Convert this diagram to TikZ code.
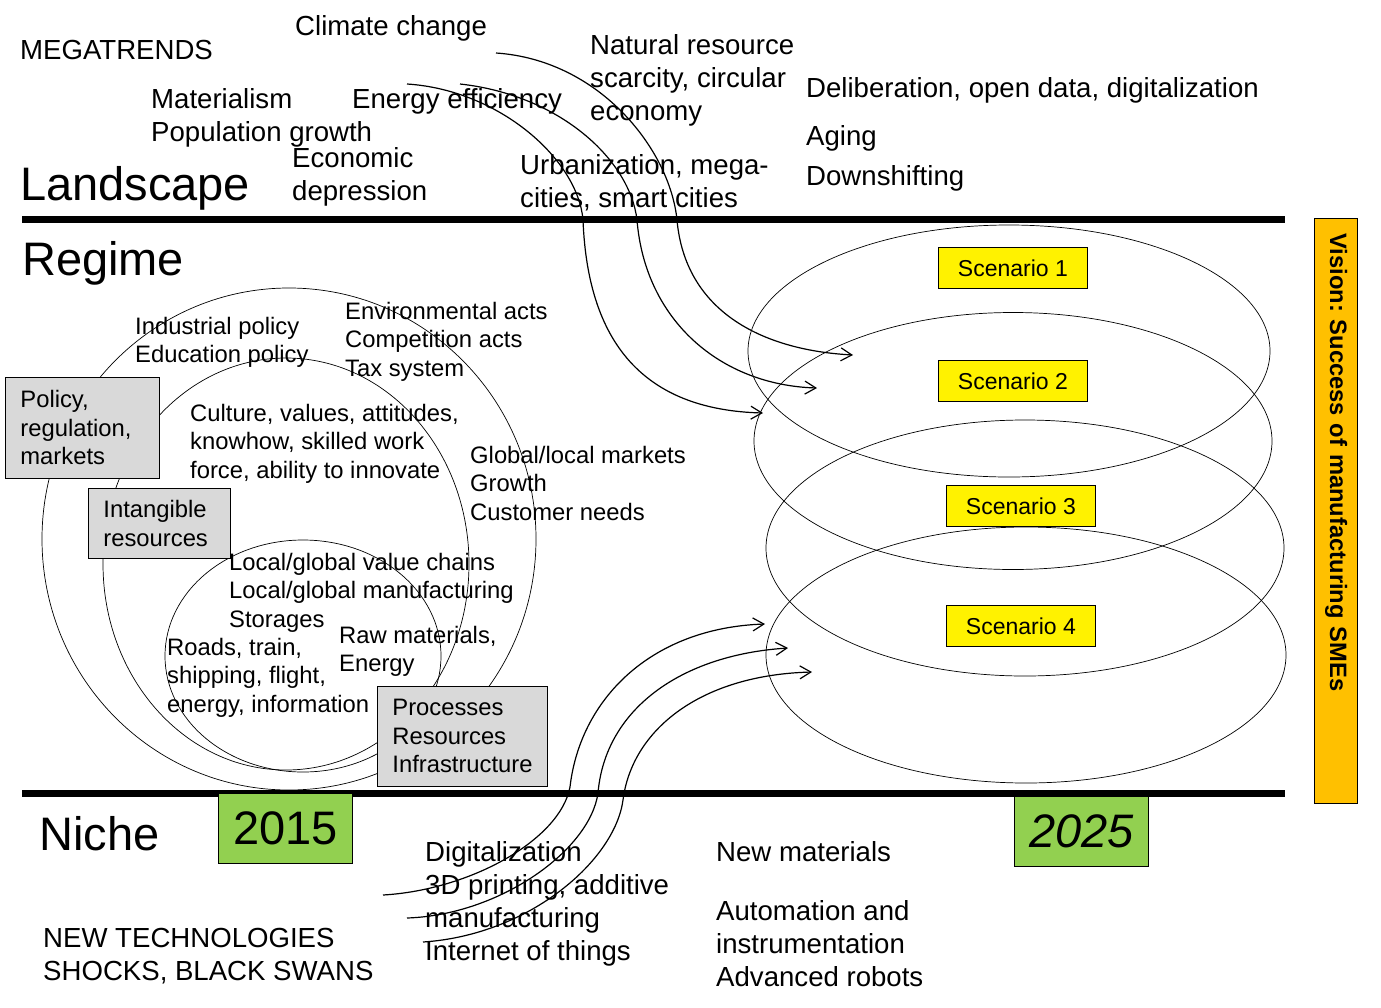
\documentclass[tikz,border=0pt]{standalone}
\usepackage{fontspec}
\setmainfont{Liberation Sans}
\frenchspacing
\usetikzlibrary{arrows.meta,positioning,shapes}
\definecolor{boxgray}{HTML}{D9D9D9}
\definecolor{yeargreen}{HTML}{92D050}
\definecolor{visionorange}{HTML}{FFC000}
\tikzset{
  big label/.style={inner sep=0pt, anchor=north west, font=\fontsize{47}{52}\selectfont},
  trend text/.style={inner sep=0pt, anchor=north west, align=left,
    font=\fontsize{27.6}{33}\selectfont},
  regime text/.style={inner sep=0pt, anchor=north west, align=left,
    font=\fontsize{23.8}{28.5}\selectfont},
  info box/.style={draw, fill=boxgray, anchor=north west, align=left,
    inner xsep=15pt, inner ysep=0pt, line width=0.8pt,
    font=\fontsize{23.8}{28.5}\selectfont},
  scenario box/.style={draw, fill=yellow, anchor=north west, line width=0.8pt,
    minimum width=149pt, minimum height=41pt, inner sep=0pt,
    font=\fontsize{23}{26}\selectfont},
  year box/.style={draw, fill=yeargreen, anchor=north west, line width=0.8pt,
    minimum width=134pt, minimum height=70pt, inner sep=0pt,
    font=\fontsize{47}{52}\selectfont},
  orbit/.style={draw, ellipse, inner sep=0pt, line width=0.7pt},
  layer bar/.style={line width=7pt},
  flow/.style={line width=1.2pt, -{Straight Barb[length=11pt,width=13pt]}}
}

\begin{document}
\begin{tikzpicture}[x=1pt,y=-1pt]
    \useasboundingbox (0,0) rectangle (1381,1007);
    \node[orbit, minimum width=494pt, minimum height=502pt] (policy ring) at (289,539) {};
    \node[orbit, minimum width=366pt, minimum height=412pt] (resource ring) at (286,564) {};
    \node[orbit, minimum width=276pt, minimum height=232pt] (process ring) at (303,656) {};
    \node[orbit, minimum width=522pt, minimum height=252pt] (orbit 1) at (1009,351) {};
    \node[orbit, minimum width=518pt, minimum height=257pt] (orbit 2) at (1013,441) {};
    \node[orbit, minimum width=518pt, minimum height=256pt] (orbit 3) at (1025,548) {};
    \node[orbit, minimum width=520pt, minimum height=256pt] (orbit 4) at (1026,655) {};

    \draw[layer bar] (22,219.5) -- (1285,219.5);
    \draw[layer bar] (22,793.5) -- (1285,793.5);

    \node[trend text] (megatrends) at (20,40) {MEGATRENDS};
    \node[trend text] (climate) at (295,15) {Climate change};
    \node[trend text] (scarcity) at (590,34) {Natural resource\\scarcity, circular\\economy};
    \node[trend text] (materialism) at (151,88) {Materialism\\Population growth};
    \node[trend text] (energy) at (352,88) {Energy efficiency};
    \node[trend text] (depression) at (292,147) {Economic\\depression};
    \node[trend text] (urban) at (520,154) {Urbanization, mega-\\cities, smart cities};
    \node[trend text] (open data) at (806,77) {Deliberation, open data, digitalization};
    \node[trend text] (aging) at (806,125) {Aging};
    \node[trend text] (downshift) at (806,165) {Downshifting};
    \node[big label] (landscape) at (20,166) {Landscape};
    \node[big label] (regime) at (22,241) {Regime};
    \node[big label] (niche) at (39,816) {Niche};

    \node[regime text] (policies) at (135,317) {Industrial policy\\Education policy};
    \node[regime text] (acts) at (345,302) {Environmental acts\\Competition acts\\Tax system};
    \node[regime text] (culture) at (190,404) {Culture, values, attitudes,\\knowhow, skilled work\\force, ability to innovate};
    \node[regime text] (markets) at (470,446) {Global/local markets\\Growth\\Customer needs};
    \node[regime text] (chains) at (229,553) {Local/global value chains\\Local/global manufacturing\\Storages};
    \node[regime text] (transport) at (167,638) {Roads, train,\\shipping, flight,\\energy, information};
    \node[regime text] (raw) at (339,626) {Raw materials,\\Energy};

    \node[info box, text width=124pt, minimum height=101pt] (policy) at (5,377) {Policy,\\regulation,\\markets};
    \node[info box, text width=112pt, minimum height=70pt] (intangible) at (88,488) {Intangible\\resources};
    \node[info box, text width=140pt, minimum height=100pt] (processes) at (377,686) {Processes\\Resources\\Infrastructure};

    \node[scenario box] (scenario 1) at (938,247) {Scenario 1};
    \node[scenario box] (scenario 2) at (938,360) {Scenario 2};
    \node[scenario box] (scenario 3) at (946,485) {Scenario 3};
    \node[scenario box] (scenario 4) at (946,605) {Scenario 4};

    \node[year box] (year 2015) at (218,793) {2015};
    \node[year box, font=\itshape\fontsize{47}{52}\selectfont] (year 2025) at (1014,796) {2025};

    \node[draw, fill=visionorange, rotate=-90, anchor=north west, line width=0.8pt,
      minimum height=43pt, text width=555pt, inner xsep=15pt, inner ysep=0pt, align=left,
      font=\bfseries\fontsize{23.7}{28}\selectfont] (vision) at (1358,218)
      {Vision: Success of manufacturing SMEs};

    \node[trend text] (technologies) at (425,841) {Digitalization\\3D printing, additive\\manufacturing\\Internet of things};
    \node[trend text] (materials) at (716,841) {New materials};
    \node[trend text] (automation) at (716,900) {Automation and\\instrumentation\\Advanced robots};
    \node[trend text] (shocks) at (43,928) {NEW TECHNOLOGIES\\SHOCKS, BLACK SWANS};

    \coordinate (climate tail) at (496,53);
    \coordinate (efficiency tail) at (460,84);
    \coordinate (energy tail) at (407,84);
    \coordinate (climate cross) at (677,220);
    \coordinate (efficiency cross) at (637,220);
    \coordinate (energy cross) at (583,220);
    \coordinate (climate tip) at (853,355);
    \coordinate (efficiency tip) at (817,388);
    \coordinate (energy tip) at (763,413);
    \draw[flow] (climate tail) .. controls (600,60) and (670,150) .. (climate cross)
      .. controls (685,310) and (760,350) .. (climate tip);
    \draw[flow] (efficiency tail) .. controls (560,95) and (630,160) .. (efficiency cross)
      .. controls (645,320) and (720,385) .. (efficiency tip);
    \draw[flow] (energy tail) .. controls (500,90) and (578,160) .. (energy cross)
      .. controls (588,350) and (650,410) .. (energy tip);

    \coordinate (digital tail) at (383,895);
    \coordinate (printing tail) at (407,918);
    \coordinate (internet tail) at (423,942);
    \coordinate (digital cross) at (570,787);
    \coordinate (printing cross) at (598,793);
    \coordinate (internet cross) at (623,800);
    \coordinate (digital tip) at (765,624);
    \coordinate (printing tip) at (788,648);
    \coordinate (internet tip) at (812,672);
    \draw[flow] (digital tail) .. controls (470,890) and (560,840) .. (digital cross)
      .. controls (580,700) and (650,628) .. (digital tip);
    \draw[flow] (printing tail) .. controls (500,915) and (590,850) .. (printing cross)
      .. controls (605,710) and (680,655) .. (printing tip);
    \draw[flow] (internet tail) .. controls (530,935) and (615,860) .. (internet cross)
      .. controls (632,730) and (700,675) .. (internet tip);
\end{tikzpicture}
\end{document}
